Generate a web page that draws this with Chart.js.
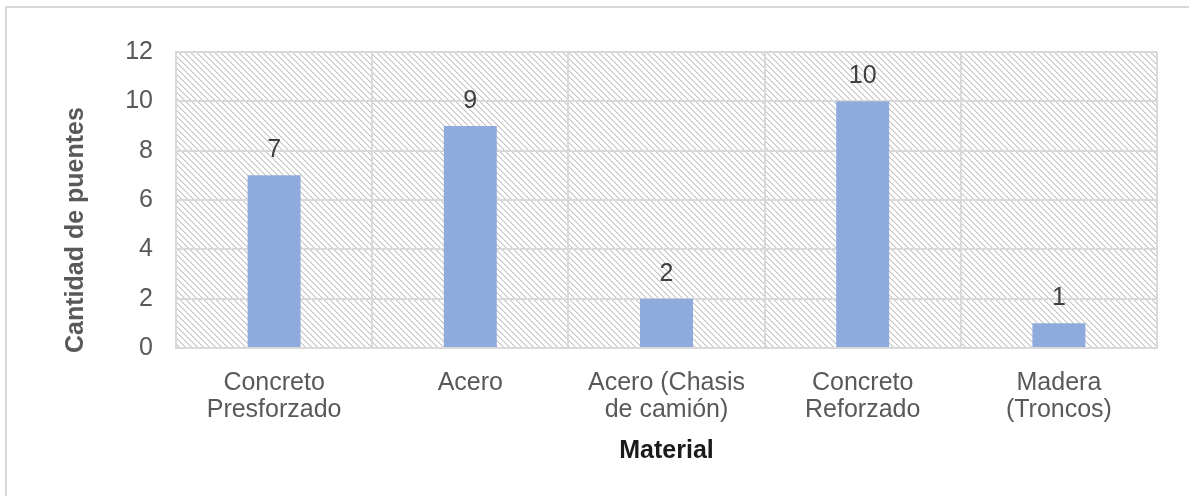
<!DOCTYPE html>
<html>
<head>
<meta charset="utf-8">
<script src="https://cdn.jsdelivr.net/npm/chart.js@4.4.0/dist/chart.umd.min.js"></script>
<style>
    html, body { margin: 0; padding: 0; background: #fff; overflow: hidden; }
    #wrap { position: relative; width: 1189px; height: 496px; }
    #frame { position: absolute; left: 5px; top: 6px; width: 2000px; height: 2000px; border: 2px solid #d9d9d9; }
    #grafico { position: absolute; left: 0; top: 0; }
</style>
</head>
<body>
<div id="wrap">
    <div id="frame"></div>
    <canvas id="grafico" width="1189" height="496"></canvas>
</div>
<script>
const materiales = [
    ['Concreto', 'Presforzado'],
    'Acero',
    ['Acero (Chasis', 'de camión)'],
    ['Concreto', 'Reforzado'],
    ['Madera', '(Troncos)']
];
const puentes = [7, 9, 2, 10, 1];
const ejeY = [0, 2, 4, 6, 8, 10, 12];
const tituloX = 'Material';
const tituloY = 'Cantidad de puentes';

const fuente = "'Liberation Sans', Arial, sans-serif";
const gris = '#d9d9d9';

// trama diagonal del fondo del area de trazado
function trama() {
    const c = document.createElement('canvas');
    c.width = 6;
    c.height = 6;
    const g = c.getContext('2d');
    g.fillStyle = '#ffffff';
    g.fillRect(0, 0, 6, 6);
    for (let i = 0; i < 6; i++) {
        g.fillStyle = '#c4c4c4';
        g.fillRect(i, i, 1, 1);
        g.fillStyle = '#e4e4e4';
        g.fillRect((i + 1) % 6, i, 1, 1);
    }
    return g.createPattern(c, 'repeat');
}

const fondo = {
    id: 'fondo',
    beforeDraw(chart) {
        const { ctx, chartArea: a } = chart;
        ctx.save();
        ctx.fillStyle = trama();
        ctx.fillRect(a.left, a.top, a.right - a.left, a.bottom - a.top);
        ctx.restore();
    }
};

const etiquetas = {
    id: 'etiquetas',
    afterDatasetsDraw(chart) {
        const { ctx } = chart;
        const meta = chart.getDatasetMeta(0);
        ctx.save();
        ctx.font = '25px ' + fuente;
        ctx.fillStyle = '#404040';
        ctx.textAlign = 'center';
        ctx.textBaseline = 'alphabetic';
        meta.data.forEach((bar, i) => {
            ctx.fillText(String(puentes[i]), bar.x, bar.y - 18);
        });
        ctx.restore();
    },
    afterDraw(chart) {
        const { ctx, chartArea: a } = chart;
        ctx.save();
        ctx.translate(76, 230);
        ctx.rotate(-Math.PI / 2);
        ctx.font = 'bold 25px ' + fuente;
        ctx.fillStyle = '#595959';
        ctx.textAlign = 'center';
        ctx.textBaseline = 'middle';
        ctx.fillText(tituloY, 0, 0);
        ctx.restore();
    }
};

new Chart(document.getElementById('grafico'), {
    type: 'bar',
    data: {
        labels: materiales,
        datasets: [{
            data: puentes,
            backgroundColor: '#8faadc',
            borderWidth: 0,
            categoryPercentage: 1,
            barPercentage: 0.27
        }]
    },
    options: {
        responsive: false,
        animation: false,
        layout: {
            padding: { top: 52, right: 32, bottom: 0, left: 0 }
        },
        plugins: {
            legend: { display: false },
            tooltip: { enabled: false }
        },
        scales: {
            y: {
                min: 0,
                max: 12,
                afterFit(scale) { scale.width = 176; },
                afterBuildTicks(scale) {
                    scale.ticks = ejeY.map(v => ({ value: v }));
                },
                ticks: {
                    color: '#595959',
                    padding: 23,
                    font: { family: fuente, size: 25 }
                },
                grid: {
                    color: gris,
                    lineWidth: 2,
                    drawTicks: false
                },
                border: { color: gris, width: 2 }
            },
            x: {
                afterFit(scale) { scale.height = 148; },
                ticks: {
                    color: '#595959',
                    padding: 22,
                    maxRotation: 0,
                    font: { family: fuente, size: 25, lineHeight: 1.08 }
                },
                grid: {
                    color: gris,
                    lineWidth: 2,
                    offset: true,
                    drawTicks: false
                },
                border: { color: gris, width: 2 },
                title: {
                    display: true,
                    text: tituloX,
                    color: '#1a1a1a',
                    padding: { top: 0, bottom: 30 },
                    font: { family: fuente, size: 25, weight: 'bold', lineHeight: 1.2 }
                }
            }
        }
    },
    plugins: [fondo, etiquetas]
});
</script>
</body>
</html>
